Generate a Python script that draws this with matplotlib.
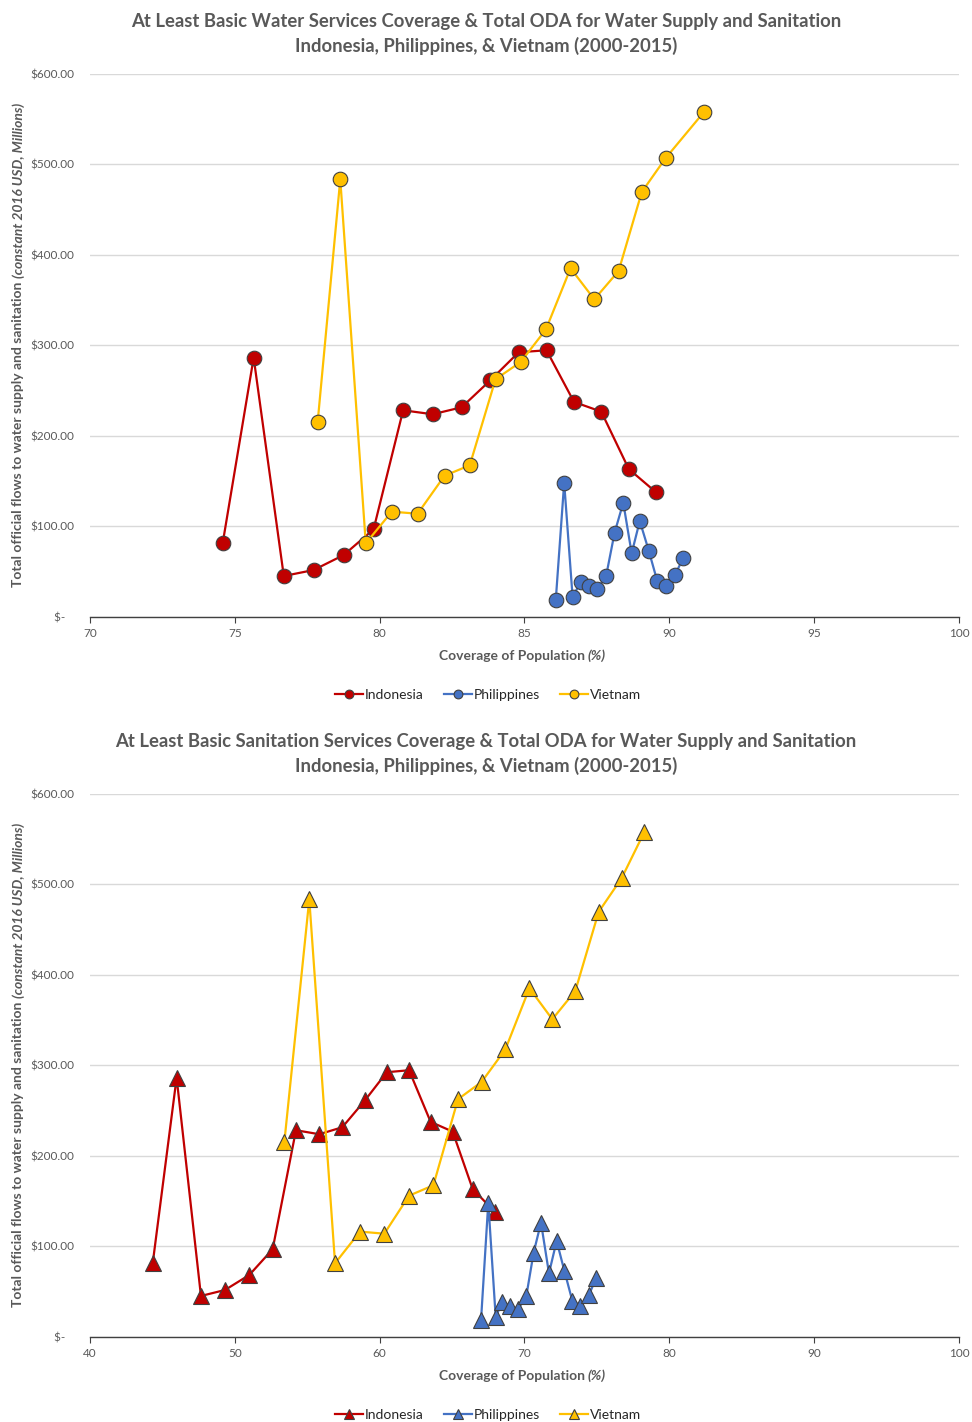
import matplotlib
matplotlib.use('Agg')
import matplotlib.pyplot as plt
from matplotlib.ticker import FuncFormatter

plt.rcParams['font.family'] = ['Lato', 'DejaVu Sans']

countries = ['Indonesia', 'Philippines', 'Vietnam']
colors = ['#C00000', '#4472C4', '#FFC000']

# total ODA for water supply and sanitation (constant 2016 USD, millions)
oda_indonesia = [81.4, 286.5, 45.3, 51.9, 68.5, 96.9, 228.4, 224.0, 231.7, 261.5,
                 292.5, 294.7, 237.6, 226.9, 163.5, 138.1]
oda_philippines = [18.8, 148.4, 22.4, 38.3, 34.6, 30.9, 45.6, 93.1, 126.3, 70.4,
                   106.1, 73.3, 40.1, 34.6, 46.4, 64.9]
oda_vietnam = [215.5, 483.6, 81.4, 116.4, 114.1, 156.1, 167.6, 262.7, 281.8, 317.7,
               385.3, 351.0, 382.3, 469.6, 506.9, 557.7]

# at least basic water services coverage (%)
water_indonesia = [74.58, 75.65, 76.69, 77.72, 78.76, 79.79, 80.81, 81.83, 82.83, 83.82,
                   84.80, 85.76, 86.71, 87.65, 88.60, 89.53]
water_philippines = [86.08, 86.37, 86.66, 86.94, 87.22, 87.52, 87.82, 88.11, 88.41, 88.70,
                     88.98, 89.29, 89.58, 89.89, 90.19, 90.48]
water_vietnam = [77.86, 78.64, 79.52, 80.42, 81.31, 82.24, 83.11, 84.00, 84.87, 85.74,
                 86.59, 87.41, 88.25, 89.05, 89.87, 91.19]

# at least basic sanitation services coverage (%)
sani_indonesia = [44.33, 45.98, 47.66, 49.32, 51.00, 52.61, 54.22, 55.83, 57.42, 58.99,
                  60.49, 62.03, 63.52, 65.04, 66.42, 67.96]
sani_philippines = [67.00, 67.50, 68.01, 68.47, 69.00, 69.57, 70.13, 70.63, 71.14, 71.69,
                    72.22, 72.75, 73.30, 73.85, 74.45, 74.94]
sani_vietnam = [53.42, 55.14, 56.92, 58.64, 60.32, 62.03, 63.71, 65.41, 67.04, 68.68,
                70.34, 71.92, 73.51, 75.12, 76.71, 78.27]

oda = [oda_indonesia, oda_philippines, oda_vietnam]

TXT = '#595959'


def money(v, pos):
    if v == 0:
        return '$-   '
    return '${:,.2f}'.format(v)


def panel(ax, xs, marker, msize, title, xlim, xticks):
    for name, c, x, y in zip(countries, colors, xs, oda):
        ax.plot(x, y, color=c, lw=1.6, marker=marker, ms=msize,
                markerfacecolor=c, markeredgecolor='#404040', markeredgewidth=0.8,
                label=name, zorder=3)
    ax.set_xlim(*xlim)
    ax.set_ylim(0, 600)
    ax.set_xticks(xticks)
    ax.set_yticks(range(0, 601, 100))
    ax.yaxis.set_major_formatter(FuncFormatter(money))
    ax.grid(axis='y', color='#d9d9d9', lw=1.0, zorder=0)
    for s in ['top', 'right', 'left']:
        ax.spines[s].set_visible(False)
    ax.spines['bottom'].set_color('#404040')
    ax.spines['bottom'].set_linewidth(1.0)
    ax.tick_params(axis='y', length=0, labelsize=8.5, labelcolor=TXT, pad=11)
    ax.tick_params(axis='x', length=4, color='#404040', labelsize=8.5, labelcolor=TXT, pad=4)
    ax.set_title(title, x=0.4557, fontsize=13.3, fontweight='bold', color=TXT, pad=16,
                 linespacing=1.45)

    # x label with italic part
    t1 = ax.text(0.573, -0.072, 'Coverage of Population ', transform=ax.transAxes,
                 ha='right', va='center', fontsize=10, fontweight='bold', color=TXT)
    ax.annotate('(%)', xy=(1, 0), xycoords=t1, ha='left', va='bottom',
                fontsize=10, fontweight='bold', style='italic', color=TXT)

    # y label with italic part
    y1 = ax.text(-0.083, 0.34, 'Total official flows to water supply and sanitation ',
                 transform=ax.transAxes, rotation=90, ha='center', va='center',
                 fontsize=10, fontweight='bold', color=TXT)
    ax.annotate('(constant 2016 USD, Millions)', xy=(0, 1), xycoords=y1, rotation=90,
                ha='left', va='bottom', fontsize=10, fontweight='bold', style='italic',
                color=TXT)

    ax.legend(loc='center', bbox_to_anchor=(0.458, -0.143), ncol=3, frameon=False,
              fontsize=10, handlelength=2.0, columnspacing=1.5, handletextpad=0.1,
              markerscale=0.6, labelcolor='#262626')


fig = plt.figure(figsize=(9.72, 14.22), dpi=100)
ax1 = fig.add_axes([0.0926, 0.5661, 0.894, 0.3819])
ax2 = fig.add_axes([0.0926, 0.0598, 0.894, 0.3819])

panel(ax1, [water_indonesia, water_philippines, water_vietnam], 'o', 10.5,
      'At Least Basic Water Services Coverage & Total ODA for Water Supply and Sanitation\n'
      'Indonesia, Philippines, & Vietnam (2000-2015)',
      (70, 100), range(70, 101, 5))
panel(ax2, [sani_indonesia, sani_philippines, sani_vietnam], '^', 11,
      'At Least Basic Sanitation Services Coverage & Total ODA for Water Supply and Sanitation\n'
      'Indonesia, Philippines, & Vietnam (2000-2015)',
      (40, 100), range(40, 101, 10))

fig.savefig('out.png', dpi=100)
